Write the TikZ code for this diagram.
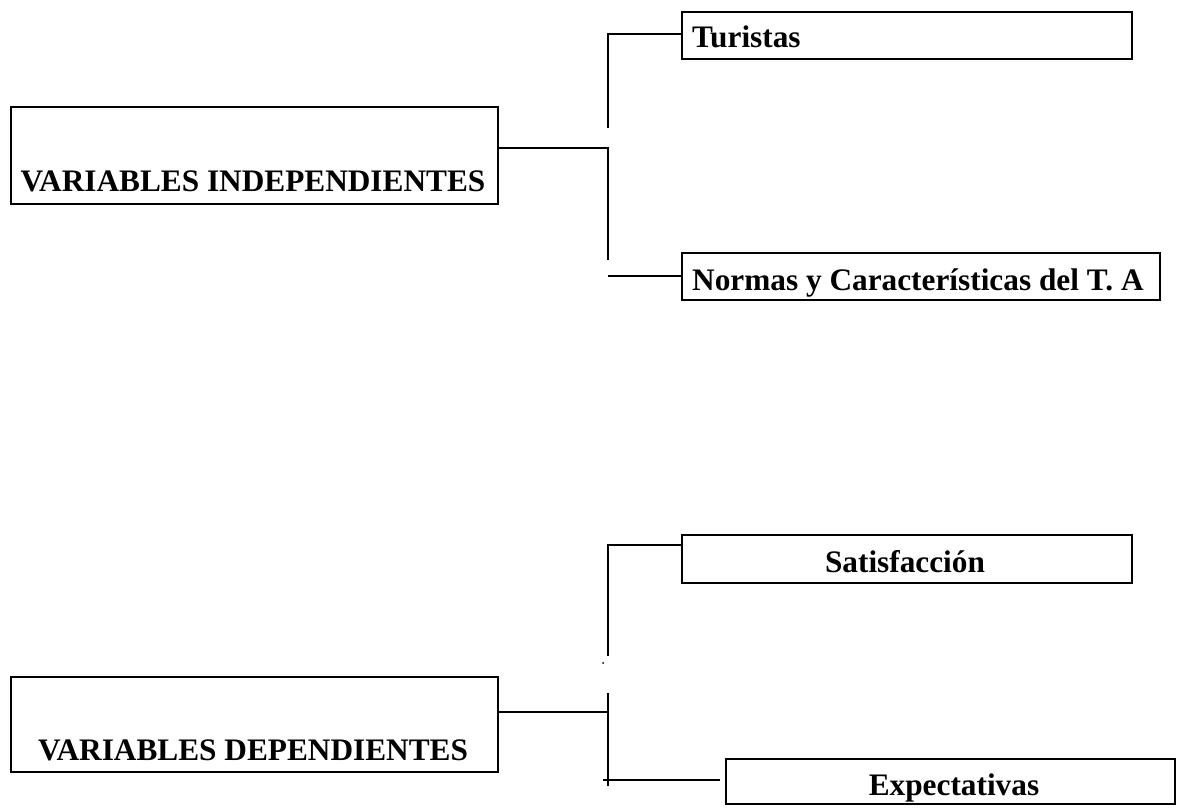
\documentclass[tikz,border=0pt]{standalone}
\usepackage{fontspec}
\setmainfont{Liberation Serif}
\begin{document}
\begin{tikzpicture}[x=1pt,y=-1pt,
  box/.style={draw,line width=2pt,rectangle,inner sep=0pt,anchor=north west},
  lbl/.style={inner sep=0pt,font=\fontsize{31.3}{36}\selectfont\bfseries},
  conn/.style={line width=1.6pt}]
\useasboundingbox (0,0) rectangle (1177,808);
% boxes
\node[box,minimum width=487pt,minimum height=97pt] (vi) at (10,106) {};
\node[box,minimum width=450pt,minimum height=47pt] (tur) at (681,11) {};
\node[box,minimum width=478pt,minimum height=47pt] (nor) at (681,252) {};
\node[box,minimum width=487pt,minimum height=95pt] (vd) at (10,676) {};
\node[box,minimum width=450pt,minimum height=48pt] (sat) at (681,534) {};
\node[box,minimum width=449pt,minimum height=45pt] (exp) at (725,758) {};
% labels
\node[lbl,anchor=base] (vit) at (253,191) {VARIABLES INDEPENDIENTES};
\node[lbl,anchor=base west] (turt) at (692,48) {Turistas};
\node[lbl,anchor=base west] (nort) at (692,290) {Normas y Características del T. A};
\node[lbl,anchor=base] (satt) at (905,572) {Satisfacción};
\node[lbl,anchor=base] (vdt) at (253,760) {VARIABLES DEPENDIENTES};
\node[lbl,anchor=base] (expt) at (954,795) {Expectativas};
% connector points
\coordinate (a1) at (497,148);
\coordinate (a2) at (608,148);
\coordinate (a3) at (608,260);
\coordinate (a4) at (608,128);
\coordinate (a5) at (608,34);
\coordinate (a6) at (608,276);
\coordinate (b1) at (608,545);
\coordinate (b1e) at (681,545);
\coordinate (b2) at (608,656);
\coordinate (b3) at (497,712);
\coordinate (b4) at (608,712);
\coordinate (b5) at (608,693);
\coordinate (b6) at (608,786);
\coordinate (b7) at (603,780);
\coordinate (b8) at (720,780);
\coordinate (dot) at (603,663);
% connectors
\draw[conn] (a1) -- (a2) -- (a3);
\draw[conn] (a4) -- (a5) -- (a5 -| tur.west);
\draw[conn] (a6) -- (a6 -| nor.west);
\draw[conn] (b2) -- (b1) -- (b1e);
\draw[conn] (b3) -- (b4);
\draw[conn] (b5) -- (b6);
\draw[conn] (b7) -- (b8);
\fill (dot) circle (1pt);
\end{tikzpicture}
\end{document}
